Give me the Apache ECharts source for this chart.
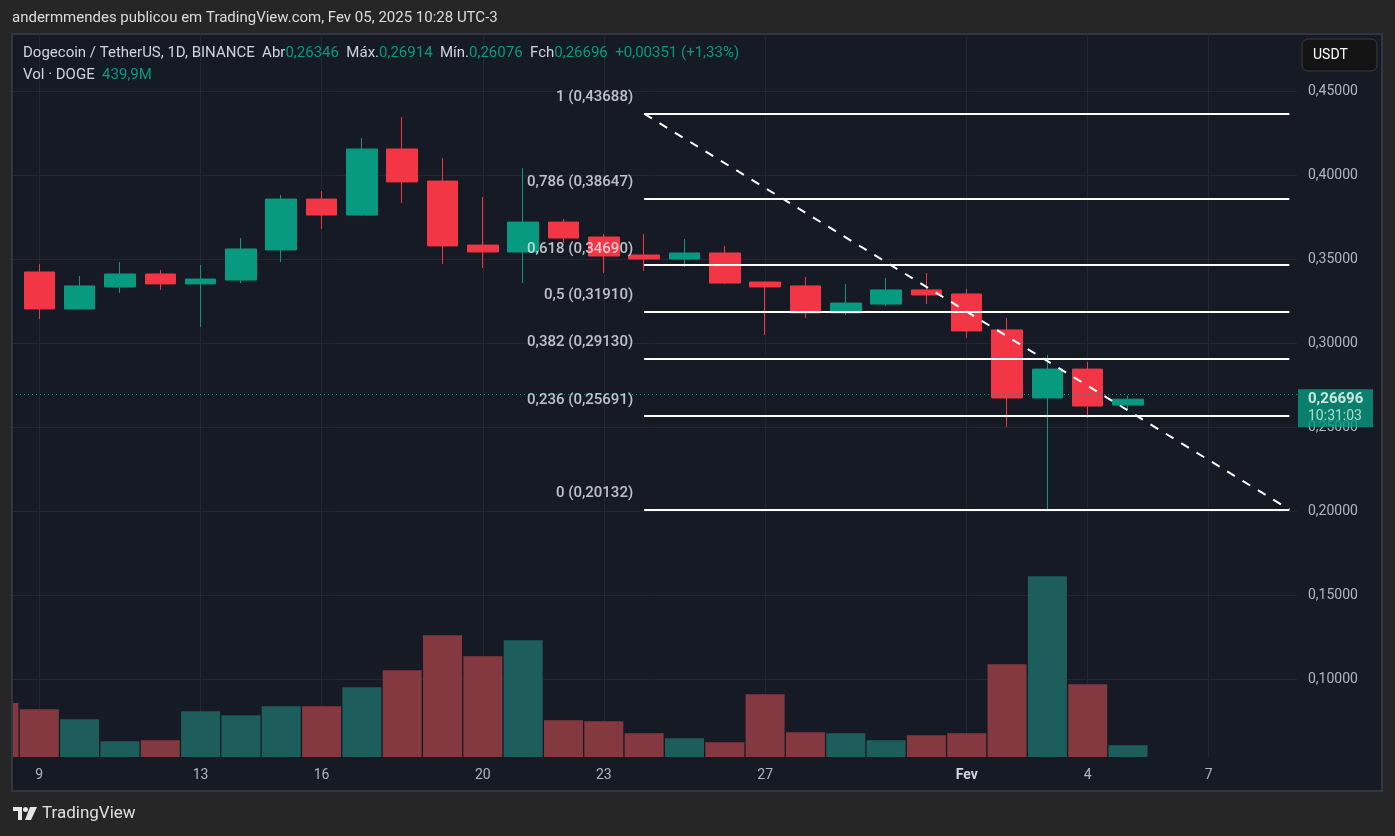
<!DOCTYPE html>
<html><head><meta charset="utf-8">
<script src="https://cdn.jsdelivr.net/npm/echarts@6/dist/echarts.min.js"></script>
<style>html,body{margin:0;padding:0;background:#262626;}#c{width:1395px;height:836px;}</style>
</head><body><div id="c"></div>
<script>
// ---- data ----
const candleDays = [9,10,11,12,13,14,15,16,17,18,19,20,21,22,23,24,25,26,27,28,29,30,31,32,33,34,35,36];
const opens  = [0.3427,0.3207,0.3338,0.3415,0.3356,0.3379,0.3558,0.3861,0.3766,0.4159,0.3968,0.3587,0.3546,0.3724,0.3635,0.3528,0.3504,0.3540,0.3367,0.3344,0.3183,0.3236,0.3320,0.3296,0.3082,0.2677,0.2849,0.26346];
const closes = [0.3207,0.3344,0.3415,0.3356,0.3385,0.3564,0.3861,0.3766,0.4159,0.3963,0.3582,0.3546,0.3724,0.3629,0.3522,0.3504,0.3540,0.3361,0.3338,0.3183,0.3242,0.3320,0.3290,0.3076,0.2677,0.2849,0.2629,0.26696];
const lows   = [0.3147,0.3205,0.3302,0.3320,0.3100,0.3361,0.3486,0.3683,0.3760,0.3837,0.3474,0.3451,0.3361,0.3600,0.3421,0.3433,0.3456,0.3355,0.3052,0.3153,0.3171,0.3224,0.3236,0.3034,0.2504,0.2013,0.2558,0.26076];
const highs  = [0.3474,0.3403,0.3486,0.3439,0.3468,0.3629,0.3885,0.3909,0.4224,0.4349,0.4105,0.3873,0.4045,0.3742,0.3653,0.3653,0.3623,0.3582,0.3370,0.3397,0.3355,0.3391,0.3421,0.3326,0.3153,0.2933,0.2891,0.26914];
const volDays = [8,9,10,11,12,13,14,15,16,17,18,19,20,21,22,23,24,25,26,27,28,29,30,31,32,33,34,35,36];
const volumes = [2030,1794,1418,590,628,1718,1568,1906,1906,2621,3260,4576,3786,4388,1380,1342,891,703,553,2358,929,891,628,816,891,3486,6794,2734,440]; // millions DOGE
const prevDayUp = false; // day 8 candle (off-screen) was bearish
const fibRatios = ['1','0,786','0,618','0,5','0,382','0,236','0'];
const fibPrices = [0.43688,0.38647,0.34690,0.31910,0.29130,0.25691,0.20132];
const fibStartDay = 24, fibEndDay = 40;
const xTickDays = [9,13,16,20,23,27,32,35,38];
const xTickLabels = ['9','13','16','20','23','27','Fev','4','7'];
const yTicks = [0.10,0.15,0.20,0.25,0.30,0.35,0.40,0.45];
const lastPrice = 0.26696;
const countdown = '10:31:03';

// ---- styling ----
const UP = '#089981', DOWN = '#f23645';
const VUP = '#1d5e5c', VDOWN = '#843840';
const FONT = 'Roboto, "Noto Sans", sans-serif';
const xMin = 8.323, xMax = 40.19;
const fmt = v => v.toFixed(5).replace('.', ',');

const chart = echarts.init(document.getElementById('c'), null, {renderer:'canvas'});

const candleData = candleDays.map((d,i)=>[d, opens[i], closes[i], lows[i], highs[i]]);
const volData = volDays.map((d,i)=>{
  const ci = candleDays.indexOf(d);
  const up = ci < 0 ? prevDayUp : closes[ci] >= opens[ci];
  return {value:[d, volumes[i]], itemStyle:{color: up ? VUP : VDOWN}};
});

const option = {
  backgroundColor:'#262626',
  animation:false,
  textStyle:{fontFamily:FONT},
  grid:{left:12, right:98, top:34, bottom:79},
  xAxis:{
    type:'value', min:xMin, max:xMax,
    axisLine:{show:false},
    axisTick:{show:false, customValues:xTickDays},
    axisLabel:{customValues:xTickDays, color:'#b2b5be', fontSize:14, margin:11, fontFamily:FONT,
      formatter:v=>{ const i = xTickDays.indexOf(Math.round(v)); const s = i>=0 ? xTickLabels[i] : ''; return s==='Fev' ? '{m|'+s+'}' : s; },
      rich:{m:{fontWeight:'bold', color:'#d1d4dc', fontSize:14, fontFamily:FONT}}},
    splitLine:{show:true, lineStyle:{color:'#232734', width:1}}
  },
  yAxis:[{
    type:'value', position:'right', min:0.05399, max:0.48435,
    axisLine:{show:false},
    axisTick:{show:false, customValues:yTicks},
    axisLabel:{customValues:yTicks, formatter:fmt, color:'#b2b5be', fontSize:14, margin:11, fontFamily:FONT},
    splitLine:{show:true, lineStyle:{color:'#232734', width:1}}
  },{
    type:'value', min:0, max:27185, show:false, splitLine:{show:false}
  }],
  series:[
    {type:'bar', name:'vol', yAxisIndex:1, data:volData, barWidth:39, z:1, silent:true, clip:true},
    {type:'candlestick', name:'DOGE', data:candleData, encode:{x:0, y:[1,2,3,4]}, barWidth:31, z:2, silent:true, clip:true,
      itemStyle:{color:UP, color0:DOWN, borderColor:UP, borderColor0:DOWN, borderWidth:1},
      markLine:{silent:true, symbol:['none','none'], label:{show:false},
        lineStyle:{color:UP, width:1, type:[1,3]}, data:[{yAxis:lastPrice}]}
    },
    {type:'line', name:'trend', data:[[fibStartDay, fibPrices[0]],[fibEndDay, fibPrices[fibPrices.length-1]]],
      symbol:'none', z:5, silent:true, lineStyle:{color:'#ffffff', width:2, type:[9,9]},
      markLine:{silent:true, symbol:['none','none'], label:{show:false},
        lineStyle:{color:'#ffffff', width:2, type:'solid'},
        data:fibPrices.map(p=>[{coord:[fibStartDay,p]},{coord:[fibEndDay,p]}])}
    },
    {type:'scatter', name:'fiblabels', symbolSize:0, z:6, silent:true, clip:false,
      data:fibPrices.map((p,i)=>({value:[fibStartDay,p], label:{formatter:fibRatios[i]+' ('+fmt(p)+')'}})),
      label:{show:true, position:'left', distance:11, offset:[0,-16], color:'#e8eaf0', fontSize:15, fontWeight:500, fontFamily:FONT}
    },
    {type:'scatter', name:'pricebox', symbolSize:0, z:10, silent:true, clip:false,
      data:[{value:[xMax, lastPrice]}],
      label:{show:true, position:'right', distance:1, offset:[0,9],
        formatter:'{a|'+fmt(lastPrice)+'}\n{b|'+countdown+'}',
        backgroundColor:UP, padding:[2,0,2,10], width:65, align:'left',
        rich:{a:{color:'#ffffff', fontWeight:'bold', fontSize:15, lineHeight:17, fontFamily:FONT},
              b:{color:'#d6efea', fontSize:14, lineHeight:17, fontFamily:FONT}}}
    }
  ],
  graphic:[
    {type:'rect', z:-100, silent:true, shape:{x:12, y:34, width:1370, height:757}, style:{fill:'#161a25', stroke:'#333540', lineWidth:2}},
    // page margin left of the panel (hides the part of the first volume bar that lies before the panel edge)
    {type:'rect', z:50, silent:true, shape:{x:0, y:34, width:11, height:757}, style:{fill:'#262626'}},
    {type:'line', z:51, silent:true, shape:{x1:12, y1:33, x2:12, y2:792}, style:{stroke:'#333540', lineWidth:2}},
    {type:'rect', z:100, silent:true, shape:{x:1302, y:39, width:75, height:32, r:6}, style:{fill:'#141414', stroke:'#3c3c3c', lineWidth:1}},
    {type:'text', z:101, silent:true, x:1313, y:55, style:{text:'USDT', fill:'#ffffff', font:'14px '+FONT, verticalAlign:'middle'}},
    {type:'text', z:101, silent:true, x:12, y:18, style:{text:'andermmendes publicou em TradingView.com, Fev 05, 2025 10:28 UTC-3', fill:'#dcdcdc', font:'15px '+FONT, verticalAlign:'middle'}},
    {type:'text', z:101, silent:true, x:23, y:53, style:{
      text:'{g|Dogecoin / TetherUS, 1D, BINANCE}  {g|Abr}{t|0,26346}  {g|Máx.}{t|0,26914}  {g|Mín.}{t|0,26076}  {g|Fch}{t|0,26696}  {t|+0,00351 (+1,33%)}',
      font:'15px '+FONT, fill:'#d1d4dc', verticalAlign:'middle',
      rich:{g:{fill:'#d1d4dc', font:'15px '+FONT}, t:{fill:UP, font:'15px '+FONT}}}},
    {type:'text', z:101, silent:true, x:23, y:75, style:{
      text:'{g|Vol · DOGE}  {t|439,9M}', font:'15px '+FONT, fill:'#d1d4dc', verticalAlign:'middle',
      rich:{g:{fill:'#d1d4dc', font:'15px '+FONT}, t:{fill:UP, font:'15px '+FONT}}}},
    {type:'group', z:101, silent:true, children:[
      {type:'polygon', shape:{points:[[13,807],[22,807],[22,820],[18,820],[18,811],[13,811]]}, style:{fill:'#e6e6e6'}},
      {type:'circle', shape:{cx:25.5, cy:809.5, r:2.5}, style:{fill:'#e6e6e6'}},
      {type:'polygon', shape:{points:[[30,807],[37,807],[31,820],[25,820]]}, style:{fill:'#e6e6e6'}}
    ]},
    {type:'text', z:101, silent:true, x:42, y:814, style:{text:'TradingView', fill:'#e0e0e0', font:'17px '+FONT, verticalAlign:'middle'}}
  ]
};
chart.setOption(option);
</script></body></html>
